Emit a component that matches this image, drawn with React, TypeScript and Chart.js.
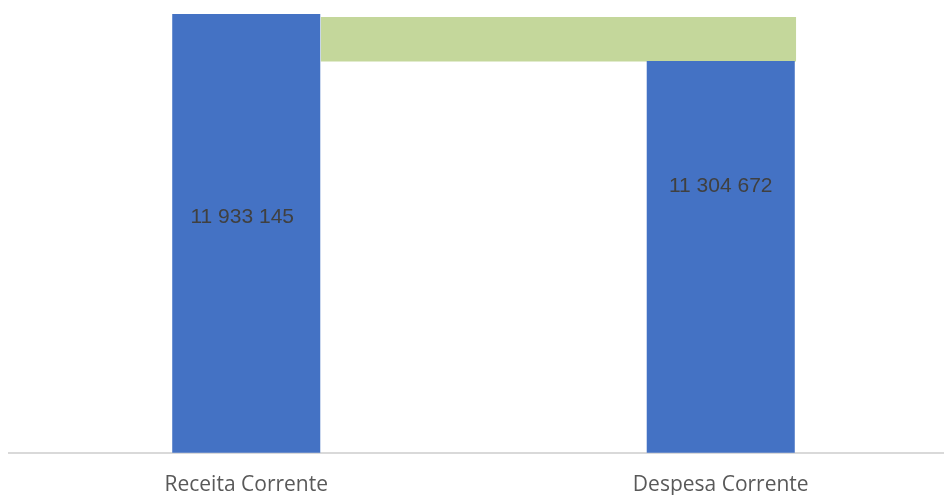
import React, { useEffect, useRef } from "react";
import { Chart, registerables } from "chart.js";

Chart.register(...registerables);

const categories = ["Receita Corrente", "Despesa Corrente"];
const currentValues = [11933145, 11304672];
const valueLabels = ["11 933 145", "11 304 672"];
const labelAnchors = [9225000, 9637000];
const bandPosition = [0.658];
const bandRange: [number, number][] = [[11304672, 11889000]];
const axisMin = 6076200;
const axisMax = 12120350;

const labelPlugin = {
  id: "valueLabels",
  afterDatasetsDraw(chart: any) {
    const ctx = chart.ctx;
    const meta = chart.getDatasetMeta(0);
    const yScale = chart.scales.y;
    ctx.save();
    ctx.font = '21px "Liberation Sans", Arial, sans-serif';
    ctx.fillStyle = "#404040";
    ctx.textAlign = "center";
    ctx.textBaseline = "middle";
    meta.data.forEach((bar: any, i: number) => {
      ctx.fillText(valueLabels[i], bar.x - (i === 0 ? 4 : 0), yScale.getPixelForValue(labelAnchors[i]));
    });
    ctx.restore();
  },
};

export default function App() {
  const ref = useRef<HTMLCanvasElement | null>(null);
  useEffect(() => {
    if (!ref.current) return;
    const chart = new Chart(ref.current, {
      type: "bar",
      data: {
        labels: categories,
        datasets: [
          {
            data: currentValues,
            backgroundColor: "#4472C4",
            xAxisID: "x",
            barPercentage: 0.312,
            categoryPercentage: 1,
            grouped: false,
            order: 1,
          },
          {
            data: bandPosition.map((x, i) => ({ x, y: bandRange[i] })) as any,
            backgroundColor: "#C4D79B",
            xAxisID: "x2",
            barPercentage: 1,
            categoryPercentage: 1,
            grouped: false,
            order: 2,
          },
        ],
      },
      options: {
        animation: false,
        responsive: false,
        devicePixelRatio: 1,
        layout: { padding: { left: 9, right: 0, top: 0, bottom: 0 } },
        plugins: { legend: { display: false }, tooltip: { enabled: false } },
        scales: {
          x: {
            type: "category",
            offset: true,
            grid: { display: false, drawTicks: false },
            border: { display: true, color: "#D9D9D9", width: 2 },
            ticks: {
              color: "#595959",
              padding: 20,
              font: { family: '"Open Sans", "Liberation Sans", sans-serif', size: 21 },
            },
          },
          x2: {
            type: "linear",
            display: false,
            offset: false,
            min: -0.5,
            max: 1.5,
            afterBuildTicks: (scale: any) => {
              scale.ticks = [{ value: -0.5 }, { value: 0.5 }, { value: 1.5 }];
            },
          },
          y: {
            display: false,
            min: axisMin,
            max: axisMax,
          },
        },
      },
      plugins: [labelPlugin],
    });
    return () => chart.destroy();
  }, []);
  return (
    <div style={{ position: "fixed", left: 0, top: 0, width: 944, height: 495, overflow: "hidden" }}>
      <canvas ref={ref} width={958} height={518} style={{ width: 958, height: 518, display: "block" }} />
    </div>
  );
}
